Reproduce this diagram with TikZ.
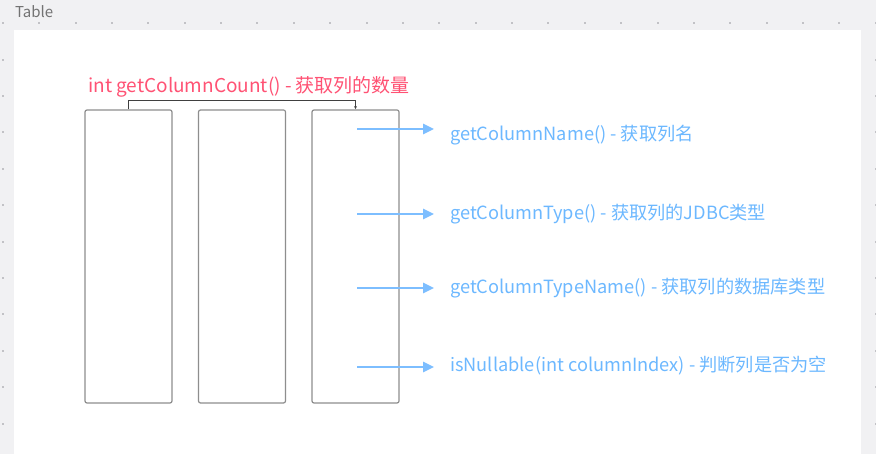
\documentclass[tikz,border=0pt]{standalone}
\usepackage{fontspec}
\setmainfont{Noto Sans CJK SC}
\usetikzlibrary{positioning, arrows.meta}
\definecolor{bggray}{HTML}{F1F1F3}
\definecolor{dotgray}{HTML}{C2C2C6}
\definecolor{boxgray}{HTML}{8E8E8E}
\definecolor{countred}{HTML}{FF5274}
\definecolor{methodblue}{HTML}{6CB8FF}
\definecolor{arrowblue}{HTML}{7DBEFF}

\begin{document}
\begin{tikzpicture}[x=1pt, y=-1pt,
		column/.style={draw=boxgray, line width=1.2pt, rounded corners=2pt, minimum width=87pt, minimum height=293pt, inner sep=0pt},
		method/.style={anchor=west, inner sep=0pt, font=\fontsize{18.2}{21}\selectfont, text=methodblue},
		getter/.style={-{Triangle[length=11pt, width=10pt]}, arrowblue, line width=2.6pt}]
		% --- Canvas ---
		\useasboundingbox (0,0) rectangle (876,454);
		\fill[bggray] (0,0) rectangle (876,454);
		\foreach \i in {0,...,24}
			\foreach \j in {0,...,11}
				\fill[dotgray] (1.9+36.37*\i, 22.3+36.4*\j) rectangle ++(2,2);
		\fill[white] (14,30) rectangle (861,454);
		\node[anchor=west, inner sep=0pt, text=black!55, font=\fontsize{15}{17}\selectfont] (title) at (15,12) {Table};
		
		% --- Columns ---
		\node[column] (col1) at (128.5,256.5) {};
		\node[column] (col2) at (242,256.5) {};
		\node[column] (col3) at (355.5,256.5) {};
		
		% --- Column count ---
		\node[anchor=west, inner sep=0pt, text=countred, font=\fontsize{19}{22}\selectfont] (count) at (88,87) {int getColumnCount() - 获取列的数量};
		\draw[black!75, line width=0.8pt, -{Latex[length=3pt, width=3pt]}] (col1.north) -- ++(0,-9) -| (col3.north);
		
		% --- Metadata methods ---
		\node[method] (m1) at (450,135) {getColumnName() - 获取列名};
		\node[method] (m2) at (450,214) {getColumnType() - 获取列的JDBC类型};
		\node[method] (m3) at (450,288) {getColumnTypeName() - 获取列的数据库类型};
		\node[method] (m4) at (450,366) {isNullable(int columnIndex) - 判断列是否为空};
		
		\coordinate (g1) at (357,129);
		\coordinate (g2) at (357,214);
		\coordinate (g3) at (357,288);
		\coordinate (g4) at (357,367);
		\foreach \k in {1,...,4}
			\draw[getter] (g\k) -- ([xshift=-16pt]g\k -| m\k.west);
	\end{tikzpicture}
\end{document}
